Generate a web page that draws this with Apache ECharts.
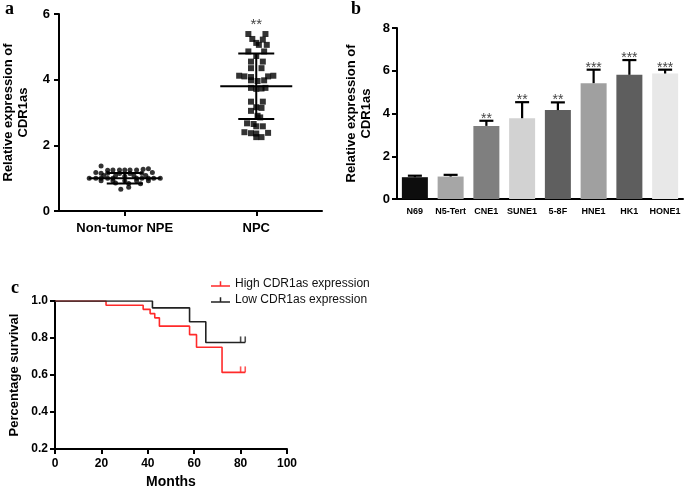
<!DOCTYPE html>
<html><head><meta charset="utf-8">
<script src="https://cdn.jsdelivr.net/npm/echarts@6/dist/echarts.min.js"></script>
<style>html,body{margin:0;padding:0;background:#fff}#c{width:685px;height:490px}</style>
</head><body><div id="c"></div>
<script>
// ---------- Panel a ----------
const groupsA = ['Non-tumor NPE', 'NPC'];
const npeValues = [1.37,1.29,1.27,1.25,1.25,1.25,1.25,1.25,1.24,1.17,1.15,1.15,1.14,1.14,1.15,1.17,1.08,1.07,1.06,1.07,1.08,1.0,1.0,1.0,1.0,1.0,1.0,1.0,1.0,1.0,1.0,0.92,0.92,0.92,0.92,0.92,0.85,0.84,0.83,0.72,0.66];
const npeJitter = [-0.18,0.18,0.14,-0.09,-0.04,0.0,0.04,0.09,-0.13,-0.22,-0.18,-0.13,-0.04,0.04,0.13,0.21,-0.16,-0.07,0.0,0.07,0.16,-0.27,-0.22,-0.18,-0.13,-0.09,0.09,0.13,0.18,0.22,0.27,-0.18,-0.09,0.0,0.09,0.18,-0.07,0.03,0.12,0.03,-0.03];
const npcValues = [5.39,5.39,5.24,5.22,5.12,5.06,5.06,4.86,4.86,4.72,4.55,4.55,4.35,4.35,4.12,4.10,4.08,4.10,4.12,3.98,3.96,3.98,3.75,3.72,3.73,3.75,3.33,3.33,3.16,3.14,3.05,2.90,2.85,2.67,2.65,2.58,2.58,2.40,2.37,2.36,2.38,2.25,2.25];
const npcJitter = [-0.06,0.07,-0.03,0.05,0.0,0.02,0.08,-0.06,0.06,0.0,-0.04,0.05,-0.04,0.04,-0.13,-0.09,-0.04,0.09,0.13,-0.04,0.01,0.06,-0.04,0.0,0.04,0.07,-0.04,0.05,0.0,0.04,-0.04,0.01,0.03,-0.07,-0.02,0.0,0.05,-0.09,-0.04,0.0,0.09,0.0,0.04];
const meanA = [1.0, 3.8];
const sdA = [0.16, 1.0];
const sigA = ['', '**'];

// ---------- Panel b ----------
const cellLines = ['N69','N5-Tert','CNE1','SUNE1','5-8F','HNE1','HK1','HONE1'];
const exprB = [1.02,1.05,3.42,3.78,4.16,5.42,5.81,5.87];
const errB  = [0.07,0.08,0.24,0.75,0.36,0.63,0.69,0.18];
const sigB  = ['','','**','**','**','***','***','***'];
const barColors = ['#0d0d0d','#a6a6a6','#7f7f7f','#d2d2d2','#5f5f5f','#a0a0a0','#5e5e5e','#e8e8e8'];

// ---------- Panel c ----------
const monthsHigh = [0,22,38,41,43,45,58,61,72,82];
const survHigh   = [1,0.977,0.955,0.932,0.909,0.864,0.818,0.75,0.614,0.614];
const censorHighMonths = [80,82];
const monthsLow = [0,42,58,65,82];
const survLow   = [1,0.963,0.888,0.776,0.776];
const censorLowMonths = [80,82];
const seriesNamesC = ['High CDR1as expression','Low CDR1as expression'];

const SANS = '"Liberation Sans", Arial, sans-serif';
const SERIF = '"Liberation Serif", "DejaVu Serif", serif';
const axisLine = {show:true, lineStyle:{color:'#000', width:2}};
const axisTick = {show:true, length:5, lineStyle:{color:'#000', width:2}};

function lastValueOnStep(months, surv, m){
  let v = surv[0];
  for (let i=0;i<months.length;i++){ if (months[i] <= m) v = surv[i]; }
  return v;
}

const chart = echarts.init(document.getElementById('c'), null, {renderer:'canvas'});

const option = {
  animation:false,
  backgroundColor:'#fff',
  textStyle:{fontFamily:SANS},
  grid:[
    {left:53, top:14, width:269, height:197},
    {left:397, top:28, width:286, height:171},
    {left:55, top:301, width:232, height:152}
  ],
  legend:{
    left:206, top:273, orient:'vertical', itemGap:4, itemWidth:19, itemHeight:8,
    textStyle:{fontFamily:SANS, fontSize:12, color:'#111'},
    data: seriesNamesC.map(n=>({name:n, icon:'path://M0,5 L20,5 L20,6.6 L0,6.6 Z M9.2,1 L10.8,1 L10.8,5 L9.2,5 Z'}))
  },
  xAxis:[
    {gridIndex:0, type:'category', data:groupsA, axisLine, axisTick:Object.assign({alignWithLabel:true}, axisTick),
     axisLabel:{color:'#000', fontSize:13, fontWeight:'bold', margin:11, fontFamily:SANS}, splitLine:{show:false}},
    {gridIndex:0, type:'value', min:0, max:2, show:false},
    {gridIndex:1, type:'category', data:cellLines, axisLine, axisTick:{show:false},
     axisLabel:{color:'#000', fontSize:9, fontWeight:'bold', margin:8, interval:0, fontFamily:SANS}},
    {gridIndex:2, type:'value', min:0, max:100, interval:20, axisLine, axisTick, splitLine:{show:false},
     axisLabel:{color:'#000', fontSize:12, fontWeight:'bold', margin:9, fontFamily:SANS},
     name:'Months', nameLocation:'middle', nameGap:26,
     nameTextStyle:{color:'#000', fontSize:14, fontWeight:'bold', fontFamily:SANS}}
  ],
  yAxis:[
    {gridIndex:0, type:'value', min:0, max:6, interval:2, axisLine, axisTick, splitLine:{show:false},
     axisLabel:{color:'#000', fontSize:13, fontWeight:'bold', margin:9, fontFamily:SANS},
     name:'Relative expression of\nCDR1as', nameLocation:'middle', nameRotate:90, nameGap:28,
     nameTextStyle:{color:'#000', fontSize:13, fontWeight:'bold', lineHeight:15, fontFamily:SANS}},
    {gridIndex:1, type:'value', min:0, max:8, interval:2, axisLine, axisTick, splitLine:{show:false},
     axisLabel:{color:'#000', fontSize:13, fontWeight:'bold', margin:7, fontFamily:SANS},
     name:'Relative expression of\nCDR1as', nameLocation:'middle', nameRotate:90, nameGap:23,
     nameTextStyle:{color:'#000', fontSize:13, fontWeight:'bold', lineHeight:15, fontFamily:SANS}},
    {gridIndex:2, type:'value', min:0.2, max:1.0, interval:0.2, axisLine, axisTick, splitLine:{show:false},
     axisLabel:{color:'#000', fontSize:12, fontWeight:'bold', margin:7, fontFamily:SANS, formatter:v=>v.toFixed(1)},
     name:'Percentage survival', nameLocation:'middle', nameRotate:90, nameGap:34,
     nameTextStyle:{color:'#000', fontSize:13, fontWeight:'bold', fontFamily:SANS}}
  ],
  series:[
    {type:'scatter', xAxisIndex:1, yAxisIndex:0, symbol:'circle', symbolSize:5,
     itemStyle:{color:'#000'}, data: npeValues.map((v,i)=>[0.5+npeJitter[i], v])},
    {type:'scatter', xAxisIndex:1, yAxisIndex:0, symbol:'rect', symbolSize:6,
     itemStyle:{color:'#000'}, data: npcValues.map((v,i)=>[1.5+npcJitter[i], v])},
    {type:'custom', xAxisIndex:1, yAxisIndex:0, z:5,
     data: meanA.map((m,i)=>[i+0.5, m, sdA[i], Math.max.apply(null, i===0?npeValues:npcValues)]),
     renderItem:(params, api)=>{
       const x=api.value(0), m=api.value(1), s=api.value(2), mx=api.value(3);
       const c=api.coord([x,m]), t=api.coord([x,m+s]), b=api.coord([x,m-s]), top=api.coord([x,mx]);
       const st={stroke:'#000', lineWidth:2};
       const ch=[
         {type:'line', shape:{x1:c[0],y1:t[1],x2:c[0],y2:b[1]}, style:st},
         {type:'line', shape:{x1:c[0]-36,y1:c[1],x2:c[0]+36,y2:c[1]}, style:st},
         {type:'line', shape:{x1:c[0]-18,y1:t[1],x2:c[0]+18,y2:t[1]}, style:st},
         {type:'line', shape:{x1:c[0]-18,y1:b[1],x2:c[0]+18,y2:b[1]}, style:st}
       ];
       const sg=sigA[params.dataIndex];
       if (sg) ch.push({type:'text', style:{text:sg, x:c[0], y:top[1]-9, align:'center', verticalAlign:'middle', fill:'#444', font:'15px '+SANS}});
       return {type:'group', children:ch};
     }},
    {type:'bar', xAxisIndex:2, yAxisIndex:1, barWidth:26,
     data: exprB.map((v,i)=>({value:v, itemStyle:{color:barColors[i]}}))},
    {type:'custom', xAxisIndex:2, yAxisIndex:1, z:5,
     data: exprB.map((v,i)=>[i, v, errB[i]]),
     renderItem:(params, api)=>{
       const i=api.value(0), v=api.value(1), e=api.value(2);
       const p=api.coord([i,v]), q=api.coord([i,v+e]);
       const st={stroke:'#000', lineWidth:2.2};
       const ch=[
         {type:'line', shape:{x1:p[0],y1:p[1],x2:q[0],y2:q[1]}, style:st},
         {type:'line', shape:{x1:q[0]-7,y1:q[1],x2:q[0]+7,y2:q[1]}, style:st}
       ];
       const sg=sigB[params.dataIndex];
       if (sg) ch.push({type:'text', style:{text:sg, x:q[0], y:q[1]-2, align:'center', verticalAlign:'middle', fill:'#444', font:'14px '+SANS}});
       return {type:'group', children:ch};
     }},
    {name:seriesNamesC[0], type:'line', xAxisIndex:3, yAxisIndex:2, step:'end', showSymbol:false,
     lineStyle:{color:'#ff2a2a', width:1.6}, itemStyle:{color:'#ff2a2a'},
     data: monthsHigh.map((m,i)=>[m, survHigh[i]])},
    {name:seriesNamesC[1], type:'line', xAxisIndex:3, yAxisIndex:2, step:'end', showSymbol:false,
     lineStyle:{color:'#222', width:1.6}, itemStyle:{color:'#222'},
     data: monthsLow.map((m,i)=>[m, survLow[i]])},
    {type:'scatter', xAxisIndex:3, yAxisIndex:2, symbol:'rect', symbolSize:[1.6,6], symbolOffset:[0,-3],
     itemStyle:{color:'#ff2a2a'}, data: censorHighMonths.map(m=>[m, lastValueOnStep(monthsHigh, survHigh, m)])},
    {type:'scatter', xAxisIndex:3, yAxisIndex:2, symbol:'rect', symbolSize:[1.6,6], symbolOffset:[0,-3],
     itemStyle:{color:'#222'}, data: censorLowMonths.map(m=>[m, lastValueOnStep(monthsLow, survLow, m)])}
  ],
  graphic:[
    {type:'text', left:5, top:0, style:{text:'a', font:'bold 18px '+SERIF, fill:'#000'}},
    {type:'text', left:351, top:0, style:{text:'b', font:'bold 18px '+SERIF, fill:'#000'}},
    {type:'text', left:11, top:279, style:{text:'c', font:'bold 18px '+SERIF, fill:'#000'}}
  ]
};
chart.setOption(option);
</script></body></html>
